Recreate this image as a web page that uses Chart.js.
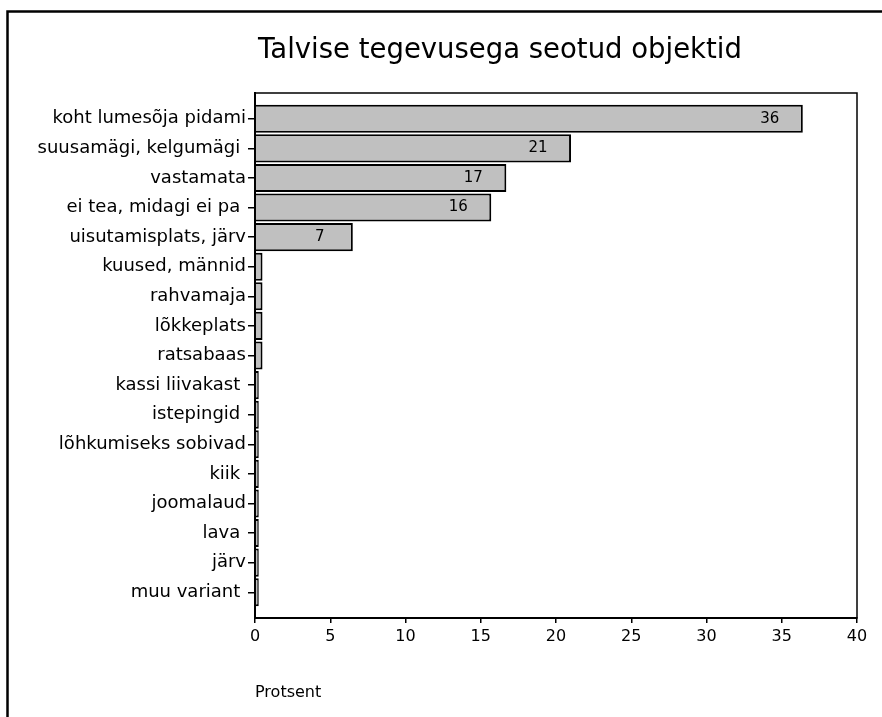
<!DOCTYPE html>
<html>
<head>
<meta charset="utf-8">
<script src="https://cdn.jsdelivr.net/npm/chart.js@4.4.1/dist/chart.umd.min.js"></script>
<style>
  html, body { margin: 0; padding: 0; background: #fff; }
  #wrap { width: 882px; height: 717px; }
</style>
</head>
<body>
<div id="wrap"><canvas id="chart" width="882" height="717"></canvas></div>
<script>
// data
const titleText = "Talvise tegevusega seotud objektid";
const axisTitle = "Protsent";
const categories = [
  "koht lumesõja pidami",
  "suusamägi, kelgumägi ",
  "vastamata",
  "ei tea, midagi ei pa ",
  "uisutamisplats, järv",
  "kuused, männid",
  "rahvamaja",
  "lõkkeplats",
  "ratsabaas",
  "kassi liivakast ",
  "istepingid ",
  "lõhkumiseks sobivad",
  "kiik ",
  "joomalaud",
  "lava ",
  "järv",
  "muu variant "
];
const percents = [36.4, 21.0, 16.7, 15.7, 6.5, 0.5, 0.5, 0.5, 0.5, 0.25, 0.25, 0.25, 0.25, 0.25, 0.25, 0.25, 0.25];
const xTicks = [0, 5, 10, 15, 20, 25, 30, 35, 40];

const FONT = "'Comic Sans MS', 'DejaVu Sans', sans-serif";

// frame, title and value labels
const extras = {
  id: "extras",
  beforeDraw(chart) {
    const ctx = chart.ctx;
    ctx.save();
    ctx.fillStyle = "#fff";
    ctx.fillRect(0, 0, chart.width, chart.height);
    ctx.strokeStyle = "#000";
    ctx.lineWidth = 2.5;
    ctx.beginPath();
    ctx.moveTo(chart.width + 5, 11.5);
    ctx.lineTo(7.5, 11.5);
    ctx.lineTo(7.5, chart.height + 5);
    ctx.stroke();
    ctx.font = "27.5px " + FONT;
    ctx.fillStyle = "#000";
    ctx.textAlign = "center";
    ctx.textBaseline = "alphabetic";
    ctx.fillText(titleText, 500, 58);
    ctx.restore();
  },
  afterDatasetsDraw(chart) {
    const ctx = chart.ctx;
    const a = chart.chartArea;
    ctx.save();
    ctx.strokeStyle = "#000";
    ctx.lineWidth = 1.5;
    ctx.strokeRect(a.left, a.top, a.right - a.left, a.bottom - a.top);
    ctx.font = "15px " + FONT;
    ctx.fillStyle = "#000";
    ctx.textAlign = "center";
    ctx.textBaseline = "middle";
    chart.getDatasetMeta(0).data.forEach((bar, i) => {
      if (percents[i] >= 1) {
        ctx.fillText(String(Math.round(percents[i])), bar.x - 33, bar.y);
      }
    });
    ctx.restore();
  }
};

new Chart(document.getElementById("chart"), {
  type: "bar",
  data: {
    datasets: [{
      data: percents.map((v, i) => ({ x: v, y: i })),
      backgroundColor: "#c0c0c0",
      borderColor: "#000",
      borderWidth: 2,
      barPercentage: 0.95,
      categoryPercentage: 1
    }]
  },
  options: {
    indexAxis: "y",
    responsive: false,
    animation: false,
    layout: { padding: { top: 93, right: 25, left: 0, bottom: 0 } },
    plugins: { legend: { display: false }, tooltip: { enabled: false } },
    scales: {
      x: {
        type: "linear",
        min: 0,
        max: 40,
        afterBuildTicks(scale) { scale.ticks = xTicks.map(v => ({ value: v })); },
        afterFit(scale) { scale.height = 99; },
        border: { display: true, color: "#000", width: 2 },
        grid: { display: true, drawOnChartArea: false, drawTicks: true, tickLength: 5, color: "#000", lineWidth: 1.5 },
        ticks: { color: "#000", font: { family: FONT, size: 16 }, padding: 4, maxRotation: 0 },
        title: {
          display: true, text: axisTitle, align: "start", color: "#000",
          font: { family: FONT, size: 16 }, padding: { top: 0, bottom: 15 }
        }
      },
      y: {
        type: "linear",
        reverse: true,
        offset: false,
        min: -0.87,
        max: 16.87,
        afterBuildTicks(scale) { scale.ticks = categories.map((c, i) => ({ value: i })); },
        afterFit(scale) { scale.width = 255; },
        border: { display: true, color: "#000", width: 2 },
        grid: { display: true, offset: false, drawOnChartArea: false, drawTicks: true, tickLength: 7, color: "#000", lineWidth: 1.5 },
        ticks: {
          color: "#000", font: { family: FONT, size: 18 }, padding: 2, autoSkip: false,
          callback: (v) => categories[v]
        }
      }
    }
  },
  plugins: [extras]
});
</script>
</body>
</html>
